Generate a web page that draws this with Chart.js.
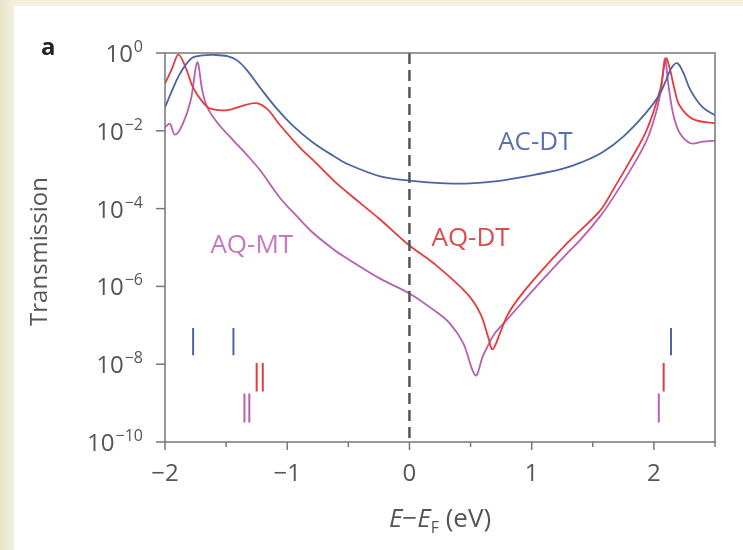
<!DOCTYPE html>
<html>
<head>
<meta charset="utf-8">
<script src="https://cdn.jsdelivr.net/npm/chart.js@4.4.1/dist/chart.umd.min.js"></script>
<style>
  html, body { margin: 0; padding: 0; background: #f3f1dc; }
  canvas { display: block; }
</style>
</head>
<body>
<canvas id="transChart" width="743" height="550"></canvas>
<script>
// Energy (eV) and log10(transmission)
const acdtE   = [-2.00, -1.94, -1.89, -1.83, -1.77, -1.69, -1.60, -1.49, -1.41, -1.33, -1.22, -1.08, -0.95, -0.79, -0.62, -0.51, -0.24, 0.00, 0.36, 0.70, 1.04, 1.25, 1.40, 1.58, 1.75, 1.93, 2.04, 2.10, 2.14, 2.19, 2.24, 2.30, 2.40, 2.50];
const acdtLog = [-1.40, -0.95, -0.60, -0.30, -0.11, -0.06, -0.05, -0.08, -0.19, -0.44, -0.90, -1.45, -1.88, -2.30, -2.65, -2.85, -3.17, -3.28, -3.36, -3.30, -3.12, -2.98, -2.82, -2.55, -2.15, -1.56, -1.10, -0.70, -0.40, -0.26, -0.50, -0.96, -1.40, -1.60];

const aqdtE   = [-2.00, -1.94, -1.89, -1.83, -1.77, -1.69, -1.63, -1.49, -1.36, -1.25, -1.16, -1.06, -0.89, -0.79, -0.62, -0.51, -0.24, 0.00, 0.20, 0.47, 0.58, 0.645, 0.68, 0.74, 0.80, 0.88, 1.01, 1.29, 1.56, 1.66, 1.80, 1.94, 2.05, 2.10, 2.13, 2.17, 2.21, 2.32, 2.50];
const aqdtLog = [-0.79, -0.38, -0.04, -0.38, -0.89, -1.27, -1.43, -1.47, -1.35, -1.29, -1.45, -1.85, -2.45, -2.75, -3.28, -3.58, -4.28, -4.95, -5.41, -6.18, -6.70, -7.31, -7.62, -7.21, -6.75, -6.36, -5.85, -4.89, -4.05, -3.55, -2.80, -1.99, -0.96, -0.14, -0.40, -0.95, -1.35, -1.70, -1.81];

const aqmtE   = [-2.00, -1.96, -1.92, -1.86, -1.79, -1.736, -1.695, -1.654, -1.57, -1.44, -1.33, -1.22, -1.06, -0.89, -0.79, -0.62, -0.51, -0.24, 0.00, 0.20, 0.33, 0.44, 0.54, 0.60, 0.635, 0.70, 0.80, 1.01, 1.29, 1.40, 1.56, 1.66, 1.80, 1.94, 2.02, 2.06, 2.09, 2.12, 2.16, 2.21, 2.30, 2.40, 2.50];
const aqmtLog = [-1.91, -1.82, -2.10, -1.86, -1.22, -0.24, -0.96, -1.40, -1.80, -2.25, -2.62, -3.02, -3.72, -4.30, -4.62, -5.05, -5.28, -5.80, -6.18, -6.61, -6.95, -7.46, -8.29, -7.80, -7.57, -7.20, -6.85, -6.10, -5.15, -4.80, -4.20, -3.75, -3.05, -2.25, -1.50, -0.90, -0.14, -0.85, -1.60, -2.05, -2.32, -2.28, -2.25];

// short vertical level markers: energies and log10 extent
const acdtMarkE = [-1.77, -1.44, 2.14];
const acdtMarkSpan = [-7.07, -7.77];
const aqdtMarkE = [-1.25, -1.20, 2.08];
const aqdtMarkSpan = [-7.97, -8.70];
const aqmtMarkE = [-1.35, -1.31, 2.04];
const aqmtMarkSpan = [-8.75, -9.50];

const energyTicks = [-2, -1.5, -1, -0.5, 0, 0.5, 1, 1.5, 2, 2.5];
const decadeTicks = [0, -2, -4, -6, -8, -10];

const blue = '#4b64a3';
const red = '#e63b3d';
const pink = '#b85fae';
const textGray = '#555';
const font = '"Open Sans", "DejaVu Sans", sans-serif';

const toPoints = (xs, logs) => xs.map((x, i) => ({ x: x, y: Math.pow(10, logs[i]) }));

const toMarks = (xs, span) => {
    const pts = [];
    xs.forEach(x => {
        pts.push({ x: x, y: Math.pow(10, span[0]) });
        pts.push({ x: x, y: Math.pow(10, span[1]) });
        pts.push({ x: x, y: null });
    });
    return pts;
};

const curve = (data, color) => ({
    data: data,
    borderColor: color,
    borderWidth: 1.8,
    pointRadius: 0,
    tension: 0.35,
    fill: false
});

const marks = (data, color) => ({
    data: data,
    borderColor: color,
    borderWidth: 2,
    pointRadius: 0,
    spanGaps: false,
    fill: false
});

// background, frame, ticks and text the axes can't do on their own
const decorPlugin = {
    id: 'decor',
    beforeDraw(chart) {
        const ctx = chart.ctx;
        ctx.save();
        ctx.fillStyle = '#f3f1dc';
        ctx.fillRect(0, 0, chart.width, chart.height);
        const g = ctx.createLinearGradient(0, 0, 14, 0);
        g.addColorStop(0, '#e6e4c8');
        g.addColorStop(1, '#f2f0da');
        ctx.fillStyle = g;
        ctx.fillRect(0, 0, 14, chart.height);
        ctx.fillStyle = '#ffffff';
        ctx.fillRect(14, 6, chart.width - 14, chart.height - 6);
        ctx.restore();
    },
    afterDraw(chart) {
        const ctx = chart.ctx;
        const a = chart.chartArea;
        const xs = chart.scales.x;
        const ys = chart.scales.y;
        ctx.save();

        // frame
        ctx.strokeStyle = '#777';
        ctx.lineWidth = 1.5;
        ctx.strokeRect(a.left, a.top, a.right - a.left, a.bottom - a.top);

        // x ticks (major longer than minor)
        energyTicks.forEach(v => {
            const px = xs.getPixelForValue(v);
            const len = Number.isInteger(v) ? 8 : 5;
            ctx.beginPath();
            ctx.moveTo(px, a.bottom);
            ctx.lineTo(px, a.bottom + len);
            ctx.stroke();
        });

        // y ticks and 10^n labels
        decadeTicks.forEach(d => {
            const py = ys.getPixelForValue(Math.pow(10, d));
            ctx.beginPath();
            ctx.moveTo(a.left - 9, py);
            ctx.lineTo(a.left, py);
            ctx.stroke();

            const exp = d === 0 ? '0' : '\u2212' + Math.abs(d);
            ctx.fillStyle = textGray;
            ctx.textAlign = 'right';
            ctx.textBaseline = 'alphabetic';
            ctx.font = '16px ' + font;
            const right = a.left - 22;
            ctx.fillText(exp, right, py - 1);
            const ew = ctx.measureText(exp).width;
            ctx.font = '24px ' + font;
            ctx.fillText('10', right - ew - 1, py + 9);
        });

        // axis titles
        ctx.fillStyle = textGray;
        ctx.save();
        ctx.translate(40, (a.top + a.bottom) / 2 + 4);
        ctx.rotate(-Math.PI / 2);
        ctx.textAlign = 'center';
        ctx.textBaseline = 'middle';
        ctx.font = '24px ' + font;
        ctx.fillText('Transmission', 0, 0);
        ctx.restore();

        const parts = [
            { t: 'E', f: 'italic 26px ' + font, dy: 0 },
            { t: '\u2212', f: '26px ' + font, dy: 0 },
            { t: 'E', f: 'italic 26px ' + font, dy: 0 },
            { t: 'F', f: '16px ' + font, dy: 6 },
            { t: ' (eV)', f: '26px ' + font, dy: 0 }
        ];
        let total = 0;
        parts.forEach(p => { ctx.font = p.f; p.w = ctx.measureText(p.t).width; total += p.w; });
        let cx = 440 - total / 2;
        ctx.textAlign = 'left';
        ctx.textBaseline = 'alphabetic';
        parts.forEach(p => {
            ctx.font = p.f;
            ctx.fillText(p.t, cx, 527 + p.dy);
            cx += p.w;
        });

        // panel letter
        ctx.fillStyle = '#222';
        ctx.font = 'bold 24px ' + font;
        ctx.fillText('a', 41, 55);

        // curve labels placed in data coordinates
        ctx.font = '26px ' + font;
        ctx.textAlign = 'center';
        ctx.textBaseline = 'middle';
        ctx.fillStyle = '#5a70b0';
        ctx.fillText('AC-DT', xs.getPixelForValue(1.03), ys.getPixelForValue(Math.pow(10, -2.30)));
        ctx.fillStyle = '#e24a4a';
        ctx.fillText('AQ-DT', xs.getPixelForValue(0.50), ys.getPixelForValue(Math.pow(10, -4.77)));
        ctx.fillStyle = '#c878c0';
        ctx.fillText('AQ-MT', xs.getPixelForValue(-1.29), ys.getPixelForValue(Math.pow(10, -4.95)));

        ctx.restore();
    }
};

const ctx = document.getElementById('transChart').getContext('2d');

const transChart = new Chart(ctx, {
    type: 'line',
    data: {
        datasets: [
            {
                data: [{ x: 0, y: 1 }, { x: 0, y: 1e-10 }],
                borderColor: '#555',
                borderWidth: 2.5,
                borderDash: [11, 6],
                pointRadius: 0,
                fill: false
            },
            curve(toPoints(acdtE, acdtLog), blue),
            curve(toPoints(aqdtE, aqdtLog), red),
            curve(toPoints(aqmtE, aqmtLog), pink),
            marks(toMarks(acdtMarkE, acdtMarkSpan), blue),
            marks(toMarks(aqdtMarkE, aqdtMarkSpan), red),
            marks(toMarks(aqmtMarkE, aqmtMarkSpan), pink)
        ]
    },
    options: {
        responsive: false,
        animation: false,
        events: [],
        layout: { padding: { top: 53, right: 28, left: 0, bottom: 0 } },
        plugins: {
            legend: { display: false },
            tooltip: { enabled: false }
        },
        scales: {
            x: {
                type: 'linear',
                min: -2,
                max: 2.5,
                afterBuildTicks: scale => { scale.ticks = energyTicks.map(v => ({ value: v })); },
                afterFit: scale => { scale.height = 108; },
                ticks: {
                    color: textGray,
                    font: { family: font, size: 24 },
                    padding: 18,
                    maxRotation: 0,
                    autoSkip: false,
                    callback: v => Number.isInteger(v) ? (v < 0 ? '\u2212' + Math.abs(v) : String(v)) : ''
                },
                grid: { display: false, drawTicks: false },
                border: { display: false }
            },
            y: {
                type: 'logarithmic',
                min: 1e-10,
                max: 1,
                afterFit: scale => { scale.width = 165; },
                ticks: { display: false },
                grid: { display: false, drawTicks: false },
                border: { display: false }
            }
        }
    },
    plugins: [decorPlugin]
});
</script>
</body>
</html>
